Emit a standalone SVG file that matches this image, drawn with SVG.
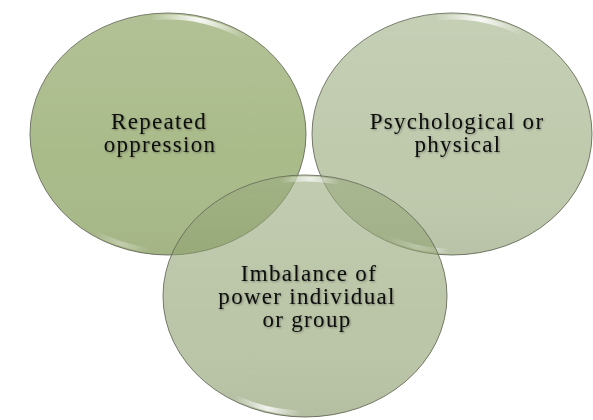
<svg xmlns="http://www.w3.org/2000/svg" width="593" height="420" viewBox="0 0 593 420">
  <style>
    .disc { stroke: #5f6452; stroke-width: 1; stroke-opacity: 0.85; }
    .label { font-family: "Liberation Serif", "Times New Roman", serif; font-size: 23px; letter-spacing: 1.3px; fill: #0d0d0d; text-anchor: middle; filter: url(#soft); }
    .gloss { fill: none; stroke-width: 5; }
  </style>
  <defs>
    <filter id="soft" x="-10%" y="-30%" width="120%" height="160%">
      <feGaussianBlur in="SourceAlpha" stdDeviation="1.2"/>
      <feOffset dx="0.8" dy="1.2" result="b"/>
      <feComponentTransfer><feFuncA type="linear" slope="0.35"/></feComponentTransfer>
      <feMerge><feMergeNode/><feMergeNode in="SourceGraphic"/></feMerge>
    </filter>
    <!-- shading laid over each disc -->
    <linearGradient id="shade" x1="0" y1="0" x2="0" y2="1">
      <stop offset="0" stop-color="#ffffff" stop-opacity="0.10"/>
      <stop offset="0.6" stop-color="#ffffff" stop-opacity="0"/>
      <stop offset="1" stop-color="#000000" stop-opacity="0.04"/>
    </linearGradient>
    <!-- glossy highlight spots -->
    <radialGradient id="hlA" gradientUnits="userSpaceOnUse" cx="200" cy="16" r="50">
      <stop offset="0" stop-color="#fff" stop-opacity="0.95"/>
      <stop offset="1" stop-color="#fff" stop-opacity="0"/>
    </radialGradient>
    <radialGradient id="hlB" gradientUnits="userSpaceOnUse" cx="480" cy="18" r="45">
      <stop offset="0" stop-color="#fff" stop-opacity="0.9"/>
      <stop offset="1" stop-color="#fff" stop-opacity="0"/>
    </radialGradient>
    <radialGradient id="hlC" gradientUnits="userSpaceOnUse" cx="310" cy="178" r="30">
      <stop offset="0" stop-color="#fff" stop-opacity="0.7"/>
      <stop offset="1" stop-color="#fff" stop-opacity="0"/>
    </radialGradient>
    <radialGradient id="lowB" gradientUnits="userSpaceOnUse" cx="418" cy="246" r="32">
      <stop offset="0" stop-color="#fff" stop-opacity="0.85"/>
      <stop offset="1" stop-color="#fff" stop-opacity="0"/>
    </radialGradient>
    <radialGradient id="lowC" gradientUnits="userSpaceOnUse" cx="268" cy="406" r="34">
      <stop offset="0" stop-color="#fff" stop-opacity="0.85"/>
      <stop offset="1" stop-color="#fff" stop-opacity="0"/>
    </radialGradient>
    <radialGradient id="lowA" gradientUnits="userSpaceOnUse" cx="120" cy="248" r="30">
      <stop offset="0" stop-color="#fff" stop-opacity="0.35"/>
      <stop offset="1" stop-color="#fff" stop-opacity="0"/>
    </radialGradient>
    <clipPath id="clipA"><ellipse cx="168" cy="134" rx="138" ry="121"/></clipPath>
    <clipPath id="clipB"><ellipse cx="452" cy="134" rx="140" ry="121"/></clipPath>
    <clipPath id="clipC"><ellipse cx="305" cy="296" rx="142" ry="121"/></clipPath>
  </defs>

  <rect width="593" height="420" fill="#ffffff"/>

  <g id="node-repeated">
    <ellipse cx="168" cy="134" rx="138" ry="121" fill="#64832a" fill-opacity="0.55" class="disc"/>
    <ellipse cx="168" cy="134" rx="138" ry="121" fill="url(#shade)"/>
    <g clip-path="url(#clipA)">
      <ellipse cx="168" cy="138" rx="137" ry="121" class="gloss" stroke="url(#hlA)"/>
      <ellipse cx="168" cy="130" rx="137" ry="121" class="gloss" stroke="url(#lowA)"/>
    </g>
    <text class="label" x="159" y="129">Repeated</text>
    <text class="label" x="160" y="152">oppression</text>
  </g>

  <g id="node-psychological">
    <ellipse cx="452" cy="134" rx="140" ry="121" fill="#8fa26e" fill-opacity="0.57" class="disc"/>
    <ellipse cx="452" cy="134" rx="140" ry="121" fill="url(#shade)"/>
    <g clip-path="url(#clipB)">
      <ellipse cx="452" cy="138" rx="139" ry="121" class="gloss" stroke="url(#hlB)"/>
      <ellipse cx="452" cy="130" rx="139" ry="121" class="gloss" stroke="url(#lowB)"/>
    </g>
    <text class="label" x="457" y="129">Psychological or</text>
    <text class="label" x="458" y="152">physical</text>
  </g>

  <g id="node-imbalance">
    <ellipse cx="305" cy="296" rx="142" ry="121" fill="#889b66" fill-opacity="0.57" class="disc"/>
    <ellipse cx="305" cy="296" rx="142" ry="121" fill="url(#shade)"/>
    <g clip-path="url(#clipC)">
      <ellipse cx="305" cy="300" rx="141" ry="121" class="gloss" stroke="url(#hlC)"/>
      <ellipse cx="305" cy="292" rx="141" ry="121" class="gloss" stroke="url(#lowC)"/>
    </g>
    <text class="label" x="309" y="281">Imbalance of</text>
    <text class="label" x="307" y="304">power individual</text>
    <text class="label" x="307" y="327">or group</text>
  </g>

  <g id="connectors"/>
</svg>
